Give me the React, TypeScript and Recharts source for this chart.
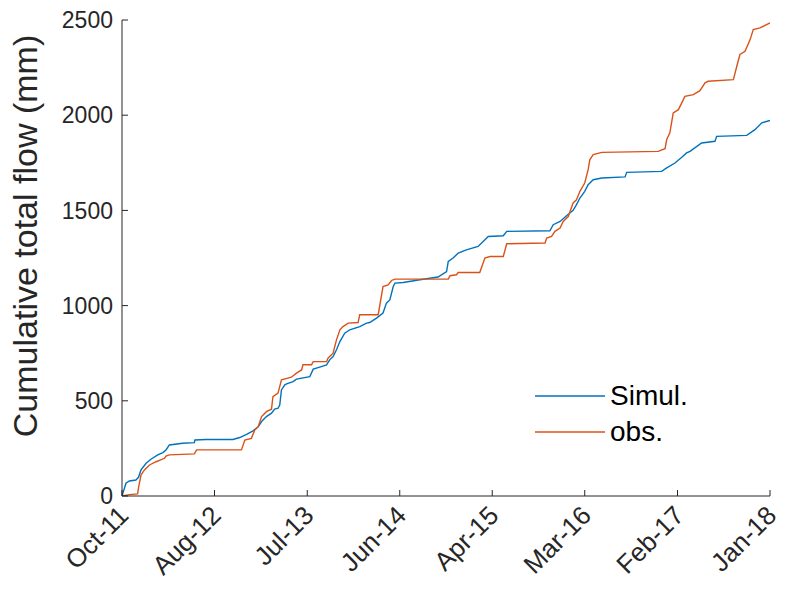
import { LineChart, Line, XAxis, YAxis, Legend, Label } from "recharts";

// Day offsets from 1 Oct 2011 and the date labels MATLAB put on them
const TICK_DAYS = [0, 326, 653, 979, 1305, 1631, 1958, 2284];
const TICK_LABELS = ["Oct-11", "Aug-12", "Jul-13", "Jun-14", "Apr-15", "Mar-16", "Feb-17", "Jan-18"];
const FLOW_TICKS = [0, 500, 1000, 1500, 2000, 2500];

// Simulated cumulative flow (mm)
const SIM_DAYS = [
  0, 14, 26, 49, 58, 67, 85, 102, 126, 144, 155, 167, 214, 255, 257, 296, 391, 415, 439, 462,
  480, 492, 509, 527, 538, 550, 556, 562, 574, 580, 603, 615, 662, 674, 697, 721, 732, 744, 756,
  768, 785, 803, 838, 862, 873, 897, 920, 932, 944, 956, 962, 991, 1050, 1114, 1144, 1150, 1167,
  1185, 1214, 1255, 1273, 1291, 1344, 1356, 1508, 1520, 1544, 1567, 1590, 1602, 1614, 1631,
  1643, 1661, 1691, 1773, 1779, 1902, 1920, 1949, 1973, 1990, 2002, 2043, 2090, 2096, 2202,
  2231, 2255, 2284,
];
const SIM_FLOW = [
  0, 67, 79, 84, 98, 137, 172, 193, 216, 228, 242, 268, 277, 280, 294, 297, 297, 307, 324, 342,
  364, 391, 417, 435, 456, 461, 478, 557, 584, 589, 601, 614, 627, 666, 677, 689, 715, 732, 768,
  811, 855, 873, 890, 908, 911, 934, 961, 1013, 1030, 1100, 1118, 1121, 1136, 1150, 1179, 1232,
  1250, 1276, 1293, 1311, 1337, 1363, 1367, 1390, 1393, 1425, 1442, 1472, 1500, 1530, 1565,
  1600, 1635, 1661, 1670, 1676, 1700, 1705, 1723, 1749, 1779, 1802, 1810, 1854, 1863, 1889,
  1894, 1924, 1960, 1972,
];

// Observed cumulative flow (mm)
const OBS_DAYS = [
  0, 26, 55, 59, 67, 79, 97, 120, 150, 155, 167, 255, 263, 421, 433, 456, 468, 480, 492, 509,
  527, 532, 550, 562, 585, 597, 615, 633, 638, 668, 674, 721, 726, 744, 756, 768, 779, 797, 832,
  838, 903, 920, 938, 950, 962, 1150, 1156, 1179, 1185, 1261, 1279, 1297, 1344, 1356, 1491,
  1497, 1514, 1526, 1544, 1555, 1573, 1590, 1602, 1614, 1631, 1643, 1649, 1661, 1691, 1890,
  1914, 1920, 1931, 1937, 1943, 1961, 1973, 1984, 2014, 2037, 2055, 2066, 2155, 2167, 2178,
  2196, 2214, 2225, 2249, 2272, 2284,
];
const OBS_FLOW = [
  0, 7, 11, 49, 110, 137, 163, 180, 198, 210, 216, 221, 242, 242, 294, 303, 347, 364, 417, 443,
  456, 522, 540, 610, 619, 624, 645, 662, 689, 689, 706, 706, 724, 750, 820, 873, 890, 908, 911,
  952, 952, 1100, 1109, 1132, 1139, 1139, 1157, 1162, 1174, 1174, 1250, 1258, 1258, 1325, 1329,
  1355, 1363, 1390, 1407, 1442, 1468, 1539, 1556, 1600, 1644, 1714, 1767, 1793, 1805, 1810,
  1824, 1872, 1907, 1960, 2012, 2029, 2065, 2099, 2108, 2129, 2170, 2178, 2187, 2257, 2319,
  2336, 2397, 2450, 2459, 2476, 2485,
];

const AXIS = "#262626";
const FONT = "'Liberation Sans', Arial, Helvetica, sans-serif";

const SERIES = [
  { name: "Simul.", color: "#0072BD", days: SIM_DAYS, flow: SIM_FLOW },
  { name: "obs.", color: "#D95319", days: OBS_DAYS, flow: OBS_FLOW },
];

const toRows = (days: number[], flow: number[]) => days.map((day, i) => ({ day, flow: flow[i] }));

const BottomTick = ({ x, y, payload }: any) => {
  const label = TICK_LABELS[TICK_DAYS.indexOf(payload.value)];
  const ax = x + 8;
  const ay = y + 21;
  return (
    <g>
      <line x1={x} y1={y} x2={x} y2={y - 6} stroke={AXIS} />
      <text x={ax} y={ay} transform={`rotate(-45, ${ax}, ${ay})`} textAnchor="end"
        fontSize={26} fontFamily={FONT} fill={AXIS}>
        {label}
      </text>
    </g>
  );
};

const TopTick = ({ x, y }: any) => <line x1={x} y1={y} x2={x} y2={y + 6} stroke={AXIS} />;

const LeftTick = ({ x, y, payload }: any) => (
  <g>
    <line x1={x} y1={y} x2={x + 6} y2={y} stroke={AXIS} />
    <text x={x - 9} y={y} dy="0.36em" textAnchor="end" fontSize={23} fontFamily={FONT} fill={AXIS}>
      {payload.value}
    </text>
  </g>
);

const RightTick = ({ x, y }: any) => <line x1={x} y1={y} x2={x - 6} y2={y} stroke={AXIS} />;

const YTitle = ({ viewBox }: any) => {
  const cx = 37;
  const cy = viewBox.y + viewBox.height / 2 - 22;
  return (
    <text x={cx} y={cy} transform={`rotate(-90, ${cx}, ${cy})`} textAnchor="middle"
      fontSize={34} fontFamily={FONT} fill={AXIS}>
      Cumulative total flow (mm)
    </text>
  );
};

const LegendBox = () => (
  <div style={{ fontFamily: FONT, fontSize: 28, color: "#000", lineHeight: 1 }}>
    {SERIES.map((s) => (
      <div key={s.name} style={{ display: "flex", alignItems: "center", height: 36 }}>
        <svg width={72} height={4} style={{ marginRight: 3 }}>
          <line x1={0} y1={2} x2={70} y2={2} stroke={s.color} strokeWidth={1.4} />
        </svg>
        <span>{s.name}</span>
      </div>
    ))}
  </div>
);

export default function App() {
  return (
    <div style={{ position: "absolute", left: 0, top: 0, background: "#fff" }}>
      <LineChart width={790} height={591} margin={{ top: 20, right: 20, bottom: 0, left: 0 }}>
        <XAxis dataKey="day" type="number" domain={[0, 2284]} ticks={TICK_DAYS}
          allowDataOverflow height={95} tickSize={0} tickMargin={0} tickLine={false}
          axisLine={{ stroke: AXIS }} tick={<BottomTick />} interval={0} />
        <XAxis xAxisId="top" orientation="top" dataKey="day" type="number" domain={[0, 2284]}
          ticks={TICK_DAYS} height={0} tickSize={0} tickMargin={0} tickLine={false}
          axisLine={{ stroke: AXIS }} tick={<TopTick />} interval={0} />
        <YAxis domain={[0, 2500]} ticks={FLOW_TICKS} width={122} tickSize={0} tickMargin={0}
          tickLine={false} axisLine={{ stroke: AXIS }} tick={<LeftTick />} interval={0}
          allowDataOverflow>
          <Label content={<YTitle />} />
        </YAxis>
        <YAxis yAxisId="right" orientation="right" domain={[0, 2500]} ticks={FLOW_TICKS}
          width={0} tickSize={0} tickMargin={0} tickLine={false} axisLine={{ stroke: AXIS }}
          tick={<RightTick />} interval={0} />
        {SERIES.map((s) => (
          <Line key={s.name} data={toRows(s.days, s.flow)} dataKey="flow" name={s.name}
            type="linear" stroke={s.color} strokeWidth={1.4} dot={false}
            isAnimationActive={false} />
        ))}
        <Legend layout="vertical" align="center" verticalAlign="middle"
          wrapperStyle={{ left: 535, top: 378, width: "auto" }} content={<LegendBox />} />
      </LineChart>
    </div>
  );
}
